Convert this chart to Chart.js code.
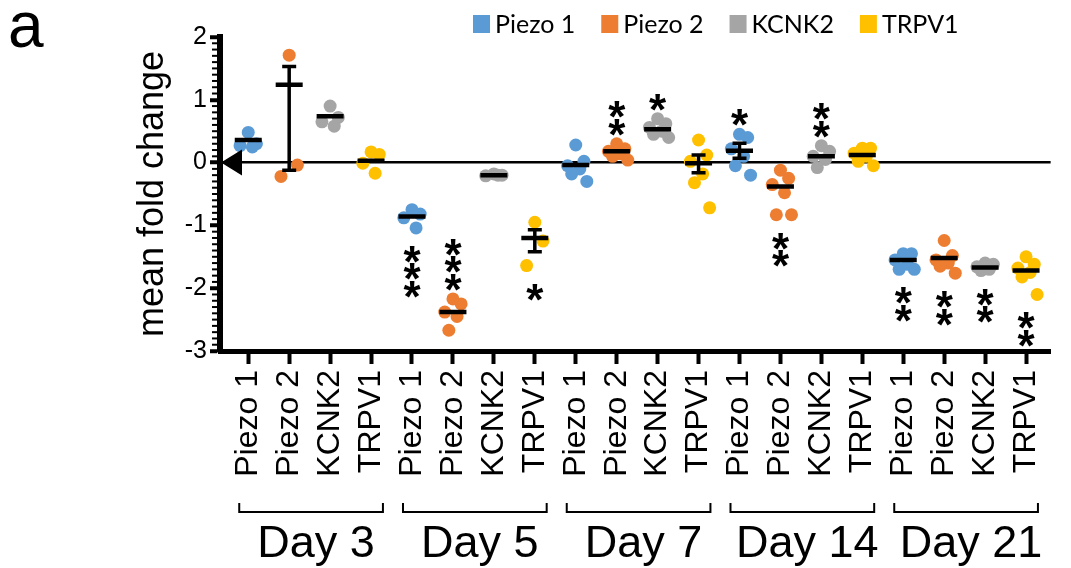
<!DOCTYPE html>
<html>
<head>
<meta charset="utf-8">
<script src="https://cdn.jsdelivr.net/npm/chart.js@4.4.0/dist/chart.umd.min.js"></script>
<style>
  html, body { margin: 0; padding: 0; background: #fff; }
</style>
</head>
<body>
<canvas id="chart" width="1071" height="568"></canvas>
<script>
const days  = ['Day 3', 'Day 5', 'Day 7', 'Day 14', 'Day 21'];
const genes = ['Piezo 1', 'Piezo 2', 'KCNK2', 'TRPV1'];
const geneColors = ['#5B9BD5', '#ED7D31', '#A5A5A5', '#FFC000'];
const yTicks = [-3, -2, -1, 0, 1, 2];

// individual fold changes, one list per day
const piezo1Points = [
  [0.48, 0.30, 0.27, 0.25],
  [-0.75, -0.82, -0.88, -1.04],
  [0.28, 0.02, -0.05, -0.10, -0.18, -0.30],
  [0.45, 0.40, 0.22, 0.10, -0.05, -0.20],
  [-1.45, -1.45, -1.55, -1.62, -1.70, -1.70],
];
const piezo2Points = [
  [1.71, -0.04, -0.22],
  [-2.17, -2.25, -2.38, -2.45, -2.67],
  [0.30, 0.22, 0.18, 0.14, 0.10, 0.04],
  [-0.12, -0.25, -0.35, -0.48, -0.83, -0.83],
  [-1.24, -1.48, -1.55, -1.60, -1.65, -1.76],
];
const kcnk2Points = [
  [0.90, 0.72, 0.65, 0.58],
  [-0.18, -0.20, -0.21, -0.20],
  [0.70, 0.62, 0.56, 0.50, 0.45, 0.40],
  [0.27, 0.18, 0.10, 0.05, -0.08],
  [-1.60, -1.62, -1.66, -1.70, -1.72],
];
const trpv1Points = [
  [0.17, 0.13, -0.01, -0.17],
  [-0.95, -1.25, -1.64],
  [0.36, 0.12, 0.02, -0.18, -0.32, -0.72],
  [0.23, 0.23, 0.15, 0.10, 0.02, -0.05],
  [-1.50, -1.62, -1.68, -1.75, -1.82, -2.10],
];

// group means
const piezo1Mean = [0.36, -0.86, -0.04, 0.19, -1.55];
const piezo2Mean = [1.24, -2.38, 0.18, -0.38, -1.52];
const kcnk2Mean  = [0.74, -0.20, 0.53, 0.10, -1.67];
const trpv1Mean  = [0.03, -1.20, -0.01, 0.12, -1.72];

// visible SEM whiskers (null = hidden behind dots)
const piezo1ErrLo = [null, null, null, 0.07, null];
const piezo1ErrHi = [null, null, null, 0.31, null];
const piezo2ErrLo = [-0.12, null, null, null, null];
const piezo2ErrHi = [1.53, null, null, null, null];
const trpv1ErrLo  = [null, -1.42, -0.16, null, null];
const trpv1ErrHi  = [null, -1.07, 0.12, null, null];

// significance stars: + above, - below
const piezo1Stars = [0, -3, 0, 1, -2];
const piezo2Stars = [0, 3, 2, -2, -2];
const kcnk2Stars  = [0, 0, 1, 2, -2];
const trpv1Stars  = [0, -1, 0, 0, -2];

const allPoints = [piezo1Points, piezo2Points, kcnk2Points, trpv1Points];
const allMeans  = [piezo1Mean, piezo2Mean, kcnk2Mean, trpv1Mean];
const allErrLo  = [piezo1ErrLo, piezo2ErrLo, [null, null, null, null, null], trpv1ErrLo];
const allErrHi  = [piezo1ErrHi, piezo2ErrHi, [null, null, null, null, null], trpv1ErrHi];
const allStars  = [piezo1Stars, piezo2Stars, kcnk2Stars, trpv1Stars];

const FONT = '"Liberation Sans", Arial, sans-serif';
const jitter = [0, 0.2, -0.2, 0.1, -0.1, 0.27];
const catIndex = (di, gi) => di * genes.length + gi;

Chart.defaults.font.family = FONT;
Chart.defaults.color = '#000';

const dotSets = genes.map((g, gi) => ({
  label: g,
  type: 'scatter',
  order: 2,
  data: allPoints[gi].flatMap((vals, di) =>
    vals.map((v, k) => ({ x: catIndex(di, gi) + jitter[k % jitter.length], y: v }))),
  backgroundColor: geneColors[gi],
  pointRadius: 6.5,
  pointBorderWidth: 0,
}));

const meanSet = {
  label: 'mean',
  type: 'scatter',
  order: 0,
  data: allMeans.flatMap((m, gi) => m.map((v, di) => ({ x: catIndex(di, gi), y: v }))),
  pointStyle: 'line',
  pointRadius: 13.5,
  borderColor: '#000',
  borderWidth: 4.5,
};

const decor = {
  id: 'decor',
  afterDatasetsDraw(chart) {
    const { ctx, scales: { x, y } } = chart;
    ctx.save();
    // error bars
    ctx.strokeStyle = '#000';
    ctx.lineWidth = 3.5;
    genes.forEach((g, gi) => days.forEach((d, di) => {
      const lo = allErrLo[gi][di], hi = allErrHi[gi][di];
      if (lo == null) return;
      const px = x.getPixelForValue(catIndex(di, gi));
      const y1 = y.getPixelForValue(lo), y2 = y.getPixelForValue(hi);
      ctx.beginPath();
      ctx.moveTo(px, y1); ctx.lineTo(px, y2);
      ctx.moveTo(px - 7, y1); ctx.lineTo(px + 7, y1);
      ctx.moveTo(px - 7, y2); ctx.lineTo(px + 7, y2);
      ctx.stroke();
    }));
    // stars
    ctx.fillStyle = '#000';
    ctx.font = 'bold 44px ' + FONT;
    ctx.textAlign = 'center';
    ctx.textBaseline = 'alphabetic';
    genes.forEach((g, gi) => days.forEach((d, di) => {
      const n = allStars[gi][di];
      if (!n) return;
      const px = x.getPixelForValue(catIndex(di, gi));
      const vals = allPoints[gi][di];
      for (let k = 0; k < Math.abs(n); k++) {
        const cy = n > 0
          ? y.getPixelForValue(Math.max(...vals)) - 19 - k * 17.5
          : y.getPixelForValue(Math.min(...vals)) + 24 + k * 17.5;
        ctx.fillText('*', px, cy + 25);
      }
    }));
    ctx.restore();
  },
  afterDraw(chart) {
    const { ctx, chartArea, scales: { x, y } } = chart;
    ctx.save();
    ctx.fillStyle = '#000';
    ctx.strokeStyle = '#000';
    // minor ticks on y
    ctx.lineWidth = 2;
    for (let i = -30; i <= 20; i++) {
      if (i % 10 === 0) continue;
      const py = y.getPixelForValue(i / 10);
      ctx.beginPath();
      ctx.moveTo(chartArea.left - 8, py);
      ctx.lineTo(chartArea.left, py);
      ctx.stroke();
    }
    // arrow at zero
    const y0 = y.getPixelForValue(0);
    ctx.beginPath();
    ctx.moveTo(chartArea.left + 1, y0);
    ctx.lineTo(chartArea.left + 22, y0 - 13);
    ctx.lineTo(chartArea.left + 22, y0 + 13);
    ctx.closePath();
    ctx.fill();
    // day brackets and labels
    ctx.lineWidth = 2;
    ctx.font = '45px ' + FONT;
    ctx.textAlign = 'center';
    ctx.textBaseline = 'alphabetic';
    days.forEach((d, di) => {
      const x1 = x.getPixelForValue(catIndex(di, 0) - 0.22);
      const x2 = x.getPixelForValue(catIndex(di, genes.length - 1) + 0.29);
      ctx.beginPath();
      ctx.moveTo(x1, 503); ctx.lineTo(x1, 512);
      ctx.lineTo(x2, 512); ctx.lineTo(x2, 503);
      ctx.stroke();
      ctx.fillText(d, (x1 + x2) / 2 + 5, 557);
    });
    // legend
    ctx.font = '25px Lato, ' + FONT;
    ctx.textAlign = 'left';
    ctx.textBaseline = 'middle';
    let lx = 473;
    genes.forEach((g, gi) => {
      ctx.fillStyle = geneColors[gi];
      ctx.fillRect(lx, 15, 17, 18);
      ctx.fillStyle = '#000';
      ctx.fillText(g, lx + 22, 25);
      lx += 22 + ctx.measureText(g).width + 26;
    });
    // panel letter
    ctx.font = '64px ' + FONT;
    ctx.textBaseline = 'alphabetic';
    ctx.fillText('a', 8, 47);
    ctx.restore();
  },
};

new Chart(document.getElementById('chart'), {
  type: 'scatter',
  data: { datasets: [meanSet, ...dotSets] },
  options: {
    responsive: false,
    animation: false,
    events: [],
    layout: { padding: { top: 37, right: 0, bottom: 0, left: 0 } },
    plugins: { legend: { display: false }, tooltip: { enabled: false } },
    scales: {
      x: {
        type: 'linear',
        min: -0.69,
        max: 19.6,
        afterFit: s => { s.height = 217; },
        border: { color: '#000', width: 5 },
        grid: { drawOnChartArea: false, color: '#000', tickLength: 13, tickWidth: 4 },
        ticks: {
          stepSize: 1,
          includeBounds: false,
          autoSkip: false,
          minRotation: 90,
          maxRotation: 90,
          padding: 6,
          font: { size: 32 },
          callback: v => genes[v % genes.length],
        },
      },
      y: {
        min: -3,
        max: 2,
        afterFit: s => { s.width = 220; },
        afterBuildTicks: s => { s.ticks = yTicks.map(v => ({ value: v })); },
        border: { color: '#000', width: 6 },
        grid: {
          color: c => (c.tick && c.tick.value === 0 ? '#000' : 'rgba(0,0,0,0)'),
          lineWidth: 2.5,
          tickColor: '#000',
          tickLength: 10,
          tickWidth: 4,
        },
        ticks: { padding: 3, font: { size: 25 } },
        title: {
          display: true,
          text: 'mean fold change',
          font: { size: 36 },
          color: '#000',
          padding: { top: 131, bottom: 0 },
        },
      },
    },
  },
  plugins: [decor],
});
</script>
</body>
</html>
